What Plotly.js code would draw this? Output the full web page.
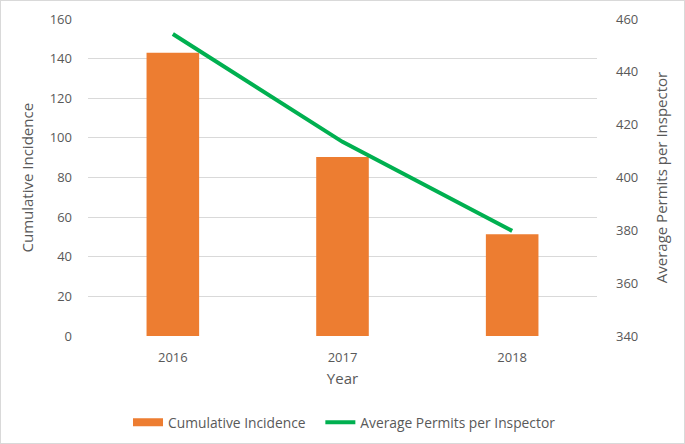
<!DOCTYPE html>
<html>
<head>
<meta charset="utf-8">
<script src="https://cdn.plot.ly/plotly-3.0.1.min.js"></script>
<style>
html,body{margin:0;padding:0;background:#fff;}
#wrap{width:683px;height:442px;border:1px solid #d9d9d9;}
#chart{width:683px;height:442px;}
</style>
</head>
<body>
<div id="wrap"><div id="chart"></div></div>
<script>
const years = ["2016", "2017", "2018"];
const cumulativeIncidence = [143, 90.4, 51.4];
const avgPermits = [454.3, 413.5, 379.8];
const leftTicks = [0, 20, 40, 60, 80, 100, 120, 140, 160];
const rightTicks = [340, 360, 380, 400, 420, 440, 460];

const fontFam = '"Open Sans", "DejaVu Sans", sans-serif';
const textCol = '#595959';
const orange = '#ED7D31';
const green = '#00B050';

const traces = [
  {
    type: 'bar', x: years, y: cumulativeIncidence, name: 'Cumulative Incidence',
    marker: {color: orange}, width: 0.31, yaxis: 'y', showlegend: false
  },
  {
    type: 'scatter', mode: 'lines', x: years, y: avgPermits, name: 'Average Permits per Inspector',
    line: {color: green, width: 4}, yaxis: 'y2', showlegend: false
  },
  // legend-only entries (no data) so the swatches look like the reference
  {
    type: 'scatter', mode: 'lines', x: [null], y: [null], name: 'Cumulative Incidence',
    line: {color: orange, width: 8}, yaxis: 'y', showlegend: true, legend: 'legend', hoverinfo: 'skip'
  },
  {
    type: 'scatter', mode: 'lines', x: [null], y: [null], name: 'Average Permits per Inspector',
    line: {color: green, width: 4}, yaxis: 'y2', showlegend: true, legend: 'legend2', hoverinfo: 'skip'
  }
];

const legFont = {size: 13.8, color: textCol};
const layout = {
  width: 683, height: 442,
  margin: {l: 87, r: 87, t: 18, b: 107, autoexpand: false},
  paper_bgcolor: '#fff', plot_bgcolor: '#fff',
  font: {family: fontFam, color: textCol, size: 13},
  showlegend: true,
  legend: {orientation: 'h', x: 0.0786, xanchor: 'left', y: -0.272, yanchor: 'middle',
           font: legFont, itemwidth: 30, bgcolor: 'rgba(0,0,0,0)'},
  legend2: {orientation: 'h', x: 0.4565, xanchor: 'left', y: -0.272, yanchor: 'middle',
           font: legFont, itemwidth: 30, bgcolor: 'rgba(0,0,0,0)'},
  annotations: [{
    text: 'Cumulative Incidence', xref: 'paper', yref: 'paper', x: 0, y: 0.5,
    xanchor: 'center', yanchor: 'middle', xshift: -62, textangle: -90, showarrow: false,
    font: {size: 15, color: textCol}
  }],
  xaxis: {
    type: 'category', showgrid: false, zeroline: false, showline: false, ticks: '',
    ticklabelstandoff: 12,
    tickfont: {size: 13, color: textCol},
    title: {text: 'Year', font: {size: 15, color: textCol}, standoff: 8}
  },
  yaxis: {
    range: [0, 160], tickvals: leftTicks, ticktext: leftTicks.map(String),
    showgrid: true, gridcolor: '#d9d9d9', gridwidth: 1, zeroline: false, showline: false,
    ticks: '', ticklabelstandoff: 15, tickfont: {size: 13, color: textCol}
  },
  yaxis2: {
    overlaying: 'y', side: 'right', range: [340, 460], tickvals: rightTicks, ticktext: rightTicks.map(String),
    showgrid: false, zeroline: false, showline: false, ticks: '', ticklabelstandoff: 18,
    tickfont: {size: 13, color: textCol},
    title: {text: 'Average Permits per Inspector', font: {size: 15, color: textCol}, standoff: 19}
  }
};

Plotly.newPlot('chart', traces, layout, {displayModeBar: false, staticPlot: true});
</script>
</body>
</html>
